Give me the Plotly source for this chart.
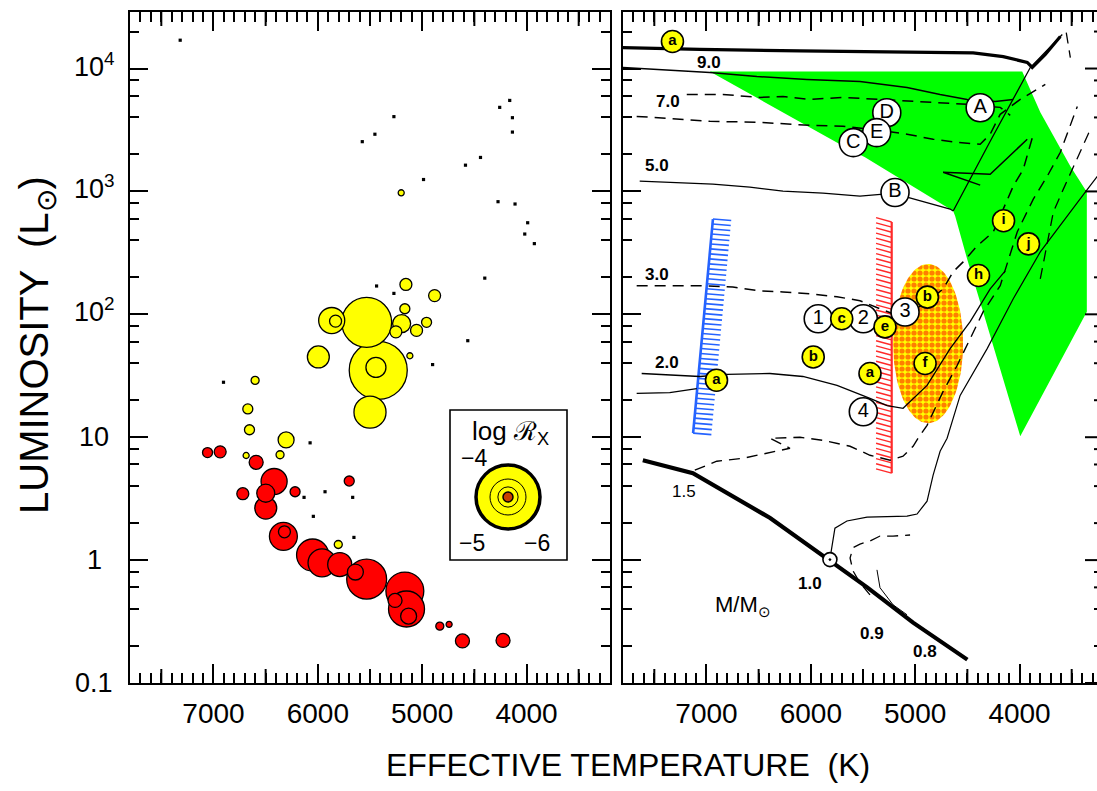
import numpy as np
import plotly.graph_objects as go

# ---------------- geometry of the page (pixels) ----------------
W, H = 1097, 791
PX_TOP, PX_BOT = 12, 683
PX_L0, PX_L1 = 130, 610        # left panel frame
PX_R0, PX_R1 = 623, 1097       # right panel (its right frame sits just off the page)
PX_RFRAME = 1103
Y_RANGE = [-1.0, 4.46]
X_RANGE_L = [7800, 3200]
KPX = (X_RANGE_L[0] - X_RANGE_L[1]) / (PX_L1 - PX_L0)
X_RANGE_R = [7800, 7800 - KPX * (PX_R1 - PX_R0)]

def px(p):
    return p / W

def py(p):
    return 1 - p / H

YDOM = [py(PX_BOT), py(PX_TOP)]

# ---------------- data: left panel ----------------
giant_T = [5421, 5532, 5500, 5867, 5995, 5443, 5830, 5156, 4881, 5166, 5197, 5252, 5054, 4958,
           6601, 6671, 6655, 6304, 6362, 6687, 5804, 5118, 5201]
giant_L = [35, 86, 16, 89, 45, 37, 88, 175, 142, 111, 84, 72, 74, 86,
           29, 17, 11.5, 9.5, 7.2, 7.1, 1.34, 46, 975]
giant_logRx = [-4.17, -4.43, -5.2, -5.56, -5.86, -6.02, -6.91, -6.91, -6.91, -7.22, -6.2, -6.91, -6.91, -7.22,
               -7.61, -7.22, -7.22, -6.41, -7.61, -8.1, -7.61, -8.1, -8.1]

dwarf_T = [7057, 6936, 6591, 6419, 6719, 6499, 6499, 6218, 5699, 6330, 6320, 6050, 5960, 5790,
           5532, 5640, 5166, 5150, 5130, 5260, 4831, 4742, 4614, 4225]
dwarf_L = [7.5, 7.6, 6.25, 4.36, 3.47, 3.5, 2.65, 3.6, 4.4, 1.56, 1.7, 1.1, 0.95, 0.92,
           0.70, 0.80, 0.56, 0.40, 0.35, 0.47, 0.29, 0.30, 0.22, 0.222]
dwarf_logRx = [-7.22, -6.91, -6.64, -5.56, -6.91, -6.2, -5.86, -7.22, -7.22, -5.44, -6.91, -5.2, -5.44, -5.7,
               -4.82, -6.41, -4.91, -5.0, -6.41, -6.64, -7.61, -8.1, -6.64, -6.64]

undet_T = [7319, 4161, 4257, 4135, 4135, 5271, 5453, 5574, 4441, 4585, 4987, 4273, 4110, 3989,
           4017, 3925, 4400, 5437, 5271, 4563, 4900, 6904, 6074, 6132, 5931, 6043, 5666, 5654]
undet_L = [17000, 5500, 4830, 3980, 3040, 4060, 2920, 2540, 1890, 1635, 1250, 825, 790, 556,
           450, 376, 197, 170, 148, 61, 39, 28, 9.0, 3.24, 3.6, 2.27, 3.24, 1.53]

legend_logRx = [-4, -5, -6]

# ---------------- data: right panel ----------------
zams_T = [7610, 7130, 6390, 5880, 5820, 5460, 5020, 4500]
zams_L = [6.5, 5.1, 2.2, 1.08, 1.01, 0.60, 0.31, 0.155]

trk9_T = [7803, 7064, 6104, 5529, 4924, 4444, 4156, 3926, 3878, 3753, 3609]
trk9_L = [14800, 14300, 13900, 13700, 13500, 13400, 12500, 11200, 10200, 13000, 18200]

trk7_T = [7803, 7477, 6968, 6517, 6037, 5529, 5078, 4761, 4502, 4233, 4060]
trk7_L = [10200, 9800, 9290, 8620, 8150, 7850, 7020, 6150, 5610, 5400, 5610]

trk7d_T = [7189, 6843, 6488, 6267, 6008, 5692, 5337, 4761, 4502, 4185, 4089]
trk7d_L = [6150, 6150, 5820, 5930, 5610, 5820, 5610, 5300, 5110, 4830, 4160]

trk5d_T = [7669, 6968, 6488, 6008, 5692, 5337, 5078, 4828, 4598, 4377, 4281, 4185, 3993, 3753]
trk5d_L = [4080, 3720, 3650, 3450, 3390, 3140, 2920, 2660, 2510, 2420, 2920, 4240, 5610, 7420]

trk5_T = [7640, 6939, 6584, 6267, 5884, 5529, 5193, 5078, 4665, 4636]
trk5_L = [1212, 1146, 1084, 1006, 969, 916, 969, 899, 719, 692]

rgb5_T = [4636, 4281, 3897, 3590]
rgb5_L = [692, 2558, 10190, 18900]

loop5_T = [3926, 4281, 4732, 4377]
loop5_L = [2656, 1381, 1434, 1125]

trk3d_T = [7669, 7064, 6748, 6488, 6267, 6008, 5749, 5529, 5337, 5145, 4905, 4732, 4636, 4540,
           4406, 4252, 4060, 3964, 3868]
trk3d_L = [171, 171, 167, 155, 152, 147, 139, 129, 111, 96, 122, 161, 222, 267,
           360, 468, 1104, 1517, 2915]

trk2_T = [7621, 7064, 6805, 6392, 6076, 5749, 5433, 5269, 5116, 4886, 4665, 4473, 4281, 4137]
trk2_L = [33.0, 31.2, 32.4, 33.0, 31.2, 26.4, 20.7, 18.1, 17.2, 26.4, 52.6, 87.1, 161, 226]

trk2b_T = [7669, 7352, 7093]
trk2b_L = [22.7, 23.1, 24.9]

trk15d_T = [7112, 6901, 6651, 6421, 6200, 6392, 6104, 5884, 5624, 5433, 5241, 5116, 5020, 4972,
            4886, 4732, 4598, 4473, 4348, 4185, 4022, 3868, 3734, 3609, 3446]
trk15d_L = [5.39, 6.38, 6.74, 7.40, 8.13, 9.80, 9.98, 9.44, 8.44, 7.13, 6.50, 7.00, 8.44, 9.80,
            12.5, 23.6, 38.3, 63.4, 105, 171, 468, 866, 1331, 2083, 4918]

trk10_T = [5817, 5769, 5654, 5461, 5078, 4982, 4886, 4828, 4761, 4694, 4569, 4310, 4060, 3801, 3370, 3225]
trk10_L = [1.02, 1.82, 2.08, 2.24, 2.28, 2.37, 3.02, 4.91, 7.68, 9.80, 21.9, 52.6, 134, 322, 987, 1434]

trk09_T = [5078, 5212, 5337, 5366]
trk09_L = [0.359, 0.433, 0.596, 0.833]

trk09d_T = [5433, 5529, 5596, 5624, 5596, 5529, 5433, 5337, 5212, 5049]
trk09d_L = [0.522, 0.653, 0.818, 1.04, 1.26, 1.35, 1.43, 1.57, 1.57, 1.60]

rgbd_T = [3801, 3676, 3580, 3484, 3321]
rgbd_L = [194, 679, 1044, 1574, 3201]

topd_T = [3552, 3513]
topd_L = [19590, 12280]

green_T = [6968, 5721, 5481, 4636, 4617, 4502, 4358, 3993, 3355, 3355, 3513, 3801, 3974]
green_L = [9456, 2420, 1898, 692, 630, 282, 111, 10.2, 105, 987, 1604, 4400, 9456]

blue_T = [6938, 7128]
blue_L = [596, 10.8]
red_T = [5225, 5225]
red_L = [564, 5.1]

ell_Tc, ell_Lc, ell_dT, ell_dlog = 4876, 57.8, 336, 0.648

white_T = [4377, 5272, 5369, 5593, 5193, 5097, 5497, 5929, 5497]
white_L = [4801, 4372, 3010, 2496, 981, 104.4, 92.0, 92.0, 16.1]
white_lab = ["A", "D", "E", "C", "B", "3", "2", "1", "4"]

yellow_T = [7326, 4153, 3914, 4393, 4883, 5704, 5289, 5977, 5433, 4905, 6904]
yellow_L = [16600, 578, 374, 207, 138, 92, 79, 45, 33, 39.8, 29.1]
yellow_lab = ["a", "i", "j", "h", "b", "c", "e", "b", "a", "f", "a"]

sun_T = [5817]
sun_L = [1.01]

mass_lab = ["9.0", "7.0", "5.0", "3.0", "2.0", "1.5", "1.0", "0.9", "0.8"]
mass_T = [6975, 7369, 7472, 7472, 7376, 7218, 6008, 5416, 4910]
mass_L = [11290, 5350, 1613, 209.5, 40.5, 3.64, 0.641, 0.252, 0.180]

# ---------------- axis ticks ----------------
MAJ_Y = [0.1, 1, 10, 100, 1000, 10000]
MAJ_Y_TXT = ["0.1", "1", "10", "10<sup>2</sup>", "10<sup>3</sup>", "10<sup>4</sup>"]
MIN_Y = [m * 10 ** e for e in range(-1, 5) for m in (2, 4, 6, 8) if np.log10(m * 10 ** e) < Y_RANGE[1]]
MID_X = [7500, 6500, 5500, 4500, 3500]

FONT = "Liberation Sans, Arial, Helvetica, sans-serif"
DASH = "11px,7px"

fig = go.Figure()

# ---------------- left panel ----------------
def diam(lr):
    return 64 * 10 ** (0.25 * (np.array(lr, dtype=float) + 4))

for T, L, R, col in [(giant_T, giant_L, giant_logRx, "#ffff00"),
                     (dwarf_T, dwarf_L, dwarf_logRx, "#ff0000")]:
    d = diam(R)
    order = np.argsort(-d, kind="stable")
    fig.add_trace(go.Scatter(x=np.array(T)[order], y=np.array(L)[order], mode="markers",
                             marker=dict(size=d[order], color=col, opacity=1,
                                         line=dict(color="black", width=1.3)),
                             xaxis="x", yaxis="y", hoverinfo="skip"))
fig.add_trace(go.Scatter(x=undet_T, y=undet_L, mode="markers",
                         marker=dict(size=3.2, color="black", symbol="square", opacity=1, line=dict(width=0)),
                         xaxis="x", yaxis="y", hoverinfo="skip"))

# ---------------- right panel ----------------
def add_line(T, L, width=1.3, dash="solid", color="black"):
    fig.add_trace(go.Scatter(x=T, y=L, mode="lines", line=dict(color=color, width=width, dash=dash),
                             xaxis="x2", yaxis="y2", hoverinfo="skip"))

fig.add_trace(go.Scatter(x=green_T, y=green_L, mode="lines", fill="toself", fillcolor="#00ff00",
                         line=dict(width=0, color="#00ff00"), xaxis="x2", yaxis="y2", hoverinfo="skip"))

th = np.linspace(0, 2 * np.pi, 120)
eT = ell_Tc + ell_dT * np.cos(th)
eL = 10 ** (np.log10(ell_Lc) + ell_dlog * np.sin(th))
fig.add_trace(go.Scatter(x=eT, y=eL, mode="lines", fill="toself", fillcolor="#ffff00",
                         fillpattern=dict(shape=".", fgcolor="#ff0000", bgcolor="#ffff00", size=6, solidity=0.6),
                         line=dict(width=0, color="#ffff00"), xaxis="x2", yaxis="y2", hoverinfo="skip"))

def hatch(T, L, n, dT, dlog):
    xs, ys = [], []
    lg0, lg1 = np.log10(L[0]), np.log10(L[1])
    for t in np.linspace(0, 1, n):
        tt = T[0] + t * (T[1] - T[0])
        lg = lg0 + t * (lg1 - lg0)
        xs += [tt, tt + dT, None]
        ys += [10 ** lg, 10 ** (lg + dlog), None]
    return xs, ys

hx, hy = hatch(blue_T, blue_L, 44, -175, -0.012)
add_line(hx, hy, width=1.6, color="#2563ff")
add_line(blue_T, blue_L, width=2.6, color="#2563ff")
hx, hy = hatch(red_T, red_L, 50, 150, 0.035)
add_line(hx, hy, width=1.4, color="#ff2a2a")
add_line(red_T, red_L, width=2.2, color="#ff2a2a")

add_line(trk9_T, trk9_L, width=3.2)
add_line(trk7_T, trk7_L, width=1.5)
add_line(trk7d_T, trk7d_L, width=1.5, dash=DASH)
add_line(trk5d_T, trk5d_L, width=1.5, dash=DASH)
add_line(trk5_T, trk5_L, width=1.3)
add_line(rgb5_T, rgb5_L, width=1.3)
add_line(loop5_T, loop5_L, width=1.5)
add_line(trk3d_T, trk3d_L, width=1.5, dash=DASH)
add_line(trk2_T, trk2_L, width=1.3)
add_line(trk2b_T, trk2b_L, width=1.3)
add_line(trk15d_T, trk15d_L, width=1.4, dash=DASH)
add_line(trk10_T, trk10_L, width=1.2)
add_line(trk09_T, trk09_L, width=1.0)
add_line(trk09d_T, trk09d_L, width=1.3, dash=DASH)
add_line(rgbd_T, rgbd_L, width=1.3, dash=DASH)
add_line(topd_T, topd_L, width=1.3, dash=DASH)
add_line(zams_T, zams_L, width=4.2)

fig.add_trace(go.Scatter(x=white_T, y=white_L, mode="markers+text", text=white_lab,
                         textposition="middle center", textfont=dict(size=20, color="black", family=FONT),
                         marker=dict(size=28, color="white", opacity=1, line=dict(color="black", width=1.6)),
                         xaxis="x2", yaxis="y2", hoverinfo="skip"))
fig.add_trace(go.Scatter(x=yellow_T, y=yellow_L, mode="markers+text",
                         text=["<b>%s</b>" % s for s in yellow_lab],
                         textposition="middle center", textfont=dict(size=15, color="black", family=FONT),
                         marker=dict(size=22, color="#ffff00", opacity=1, line=dict(color="black", width=1.6)),
                         xaxis="x2", yaxis="y2", hoverinfo="skip"))
fig.add_trace(go.Scatter(x=sun_T, y=sun_L, mode="markers",
                         marker=dict(size=14, color="white", symbol="circle-dot", opacity=1,
                                     line=dict(color="black", width=1.6)),
                         xaxis="x2", yaxis="y2", hoverinfo="skip"))

# ---------------- annotations ----------------
ann = []
for v, t in zip(MAJ_Y, MAJ_Y_TXT):
    ann.append(dict(x=px(94), y=np.log10(v), xref="paper", yref="y", text=t, showarrow=False,
                    xanchor="center", yanchor="middle", yshift=(4 if "sup" in t else 0),
                    font=dict(size=27, family=FONT, color="black")))
for lab, T, L in zip(mass_lab, mass_T, mass_L):
    ann.append(dict(x=T, y=np.log10(L), xref="x2", yref="y2", xanchor="center", yanchor="middle",
                    text=(lab if lab == "1.5" else "<b>%s</b>" % lab), showarrow=False,
                    font=dict(size=17, family=FONT, color="black")))
ann.append(dict(x=6651, y=np.log10(0.425), xref="x2", yref="y2", xanchor="center", yanchor="middle",
                text="M/M<sub>⊙</sub>", showarrow=False, font=dict(size=22, family=FONT, color="black")))
ann.append(dict(x=px(628), y=py(765), xref="paper", yref="paper", xanchor="center", yanchor="middle",
                text="EFFECTIVE TEMPERATURE  (K)", showarrow=False,
                font=dict(size=32, family=FONT, color="black")))
ann.append(dict(x=px(37), y=py(345), xref="paper", yref="paper", xanchor="center", yanchor="middle",
                text="LUMINOSITY  (L<sub>⊙</sub>)", textangle=-90, showarrow=False,
                font=dict(size=40, family=FONT, color="black")))
# legend of the symbol sizes
ann.append(dict(x=px(510), y=py(432), xref="paper", yref="paper", xanchor="center", yanchor="middle",
                text="log ℛ<sub>X</sub>", showarrow=False, font=dict(size=26, family=FONT, color="black")))
for txt, (ax_, ay_) in zip(["−%d" % -v for v in legend_logRx], [(474, 458), (472, 543), (537, 543)]):
    ann.append(dict(x=px(ax_), y=py(ay_), xref="paper", yref="paper", xanchor="center", yanchor="middle",
                    text=txt, showarrow=False, font=dict(size=23, family=FONT, color="black")))

# ---------------- shapes: extra ticks and legend ----------------
def ypaper(v):
    return YDOM[0] + (np.log10(v) - Y_RANGE[0]) / (Y_RANGE[1] - Y_RANGE[0]) * (YDOM[1] - YDOM[0])

blk = dict(color="black", width=2)
shapes = []
for v, ln in [(v, 18) for v in MAJ_Y] + [(v, 9) for v in MIN_Y]:
    shapes.append(dict(type="line", xref="paper", yref="paper", x0=px(PX_RFRAME - ln), x1=px(PX_RFRAME),
                       y0=ypaper(v), y1=ypaper(v), line=blk))
for p0, p1, rng in [(PX_L0, PX_L1, X_RANGE_L), (PX_R0, PX_R1, X_RANGE_R)]:
    for T in MID_X:
        xp = p0 + (rng[0] - T) / (rng[0] - rng[1]) * (p1 - p0)
        if xp >= p1:
            continue
        for ya, yb in [(PX_BOT, PX_BOT - 14), (PX_TOP, PX_TOP + 14)]:
            shapes.append(dict(type="line", xref="paper", yref="paper", x0=px(xp), x1=px(xp),
                               y0=py(ya), y1=py(yb), line=blk))

shapes.append(dict(type="rect", xref="paper", yref="paper", x0=px(450), x1=px(567), y0=py(560), y1=py(410),
                   line=dict(color="black", width=1.6), fillcolor="rgba(0,0,0,0)"))
cx, cy = px(508), py(497)
r_leg = diam(legend_logRx) / 2
for r, fill, lw in [(r_leg[0], "#ffff00", 3.5), (r_leg[1], "rgba(0,0,0,0)", 1.0),
                    (r_leg[2], "rgba(0,0,0,0)", 1.0), (5, "#c84000", 1.5)]:
    shapes.append(dict(type="circle", xref="paper", yref="paper", xsizemode="pixel", ysizemode="pixel",
                       xanchor=cx, yanchor=cy, x0=-r, x1=r, y0=-r, y1=r,
                       fillcolor=fill, line=dict(color="black", width=lw)))

# ---------------- axes ----------------
xax = dict(ticks="inside", ticklen=19, tickwidth=2, tickcolor="black", dtick=1000, tick0=0,
           showline=True, linewidth=2, linecolor="black", mirror="ticks", showgrid=False, zeroline=False,
           tickfont=dict(size=28, family=FONT, color="black"), ticklabelstandoff=4,
           minor=dict(dtick=100, tick0=0, ticklen=10, tickwidth=2, tickcolor="black", ticks="inside", showgrid=False))
yax = dict(type="log", range=Y_RANGE, domain=YDOM, ticks="inside", ticklen=18, tickwidth=2, tickcolor="black",
           tickvals=MAJ_Y, showticklabels=False, showline=True, linewidth=2, linecolor="black",
           showgrid=False, zeroline=False,
           minor=dict(tickvals=MIN_Y, ticklen=9, tickwidth=2, tickcolor="black", ticks="inside", showgrid=False))

fig.update_layout(
    width=W, height=H, margin=dict(l=0, r=0, t=0, b=0),
    paper_bgcolor="white", plot_bgcolor="white", showlegend=False,
    font=dict(family=FONT, color="black"),
    xaxis=dict(xax, range=X_RANGE_L, domain=[px(PX_L0), px(PX_L1)], anchor="y"),
    yaxis=dict(yax, anchor="x", mirror="ticks"),
    xaxis2=dict(xax, range=X_RANGE_R, domain=[px(PX_R0), 1.0], anchor="y2"),
    yaxis2=dict(yax, anchor="x2", mirror=False),
    annotations=ann, shapes=shapes,
)

fig.write_html("out.html")
